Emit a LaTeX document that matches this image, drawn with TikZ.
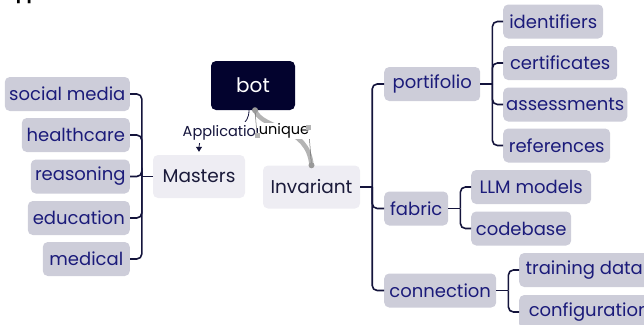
\documentclass[tikz,border=0pt]{standalone}
\usepackage{fontspec}
\setmainfont{Poppins}
\usetikzlibrary{calc,arrows.meta}
\definecolor{navy}{HTML}{14143C}
\definecolor{leafbg}{HTML}{CDCDD9}
\definecolor{leaftext}{HTML}{1B1B7A}
\definecolor{mainbg}{HTML}{EEEDF3}
\definecolor{maintext}{HTML}{1A1A3A}
\definecolor{botbg}{HTML}{03032E}
\definecolor{selgrey}{HTML}{B4B4B4}
\begin{document}
\begin{tikzpicture}[x=1pt,y=-1pt,
  leaf/.style={fill=leafbg, text=leaftext, rounded corners=5pt, minimum height=34pt,
    inner xsep=3pt, inner ysep=0pt, font=\fontsize{18}{21}\selectfont},
  topic/.style={fill=mainbg, text=maintext, rounded corners=5pt, minimum height=43pt,
    inner xsep=6pt, font=\fontsize{18.5}{22}\selectfont},
  branch/.style={draw=navy, line width=1.6pt, rounded corners=5pt},
  lbl/.style={fill=white, inner sep=1pt, font=\fontsize{14.5}{16}\selectfont},
  handle/.style={fill=selgrey, minimum size=5pt, inner sep=0pt}]
\useasboundingbox (0,0) rectangle (644,324);

% heading, cut by the top edge
\node[anchor=base west, inner sep=0pt, font=\bfseries\fontsize{16}{18}\selectfont] (hd) at (5,-0.8) {application:};

% central nodes
\node[fill=botbg, text=white, rounded corners=5pt, minimum width=84pt, minimum height=49pt,
  font=\fontsize{20}{24}\selectfont] (bot) at (253,85.5) {bot};
\node[topic, minimum width=92pt] (masters) at (199,176.5) {Masters};
\node[topic, minimum width=97pt] (inv) at (311.5,187) {Invariant};

% left branch
\node[leaf, anchor=east, minimum width=125pt] (social) at (130,94) {social media};
\node[leaf, anchor=east, minimum width=108pt] (health) at (130,135) {healthcare};
\node[leaf, anchor=east, minimum width=99pt] (reason) at (130,176.5) {reasoning};
\node[leaf, anchor=east, minimum width=102pt] (edu) at (130,218) {education};
\node[leaf, anchor=east, minimum width=87pt] (med) at (130,259) {medical};

\draw[branch] (masters.west) -- ++(-11,0) coordinate (lj);
\foreach \n in {social,health,reason,edu,med}
  \draw[branch] (lj) |- (\n.east);

% right branch
\node[leaf, anchor=west, minimum width=96pt] (port) at (384,84) {portifolio};
\node[leaf, anchor=west, minimum width=64pt] (fab) at (384,208.5) {fabric};
\node[leaf, anchor=west, minimum width=112pt] (conn) at (384,290.5) {connection};

\node[leaf, anchor=west, minimum width=100pt] (ident) at (503,21.5) {identifiers};
\node[leaf, anchor=west, minimum width=114pt] (cert) at (503,63) {certificates};
\node[leaf, anchor=west, minimum width=123pt] (assess) at (503,104.5) {assessments};
\node[leaf, anchor=west, minimum width=107pt] (ref) at (503,145.5) {references};

\node[leaf, anchor=west, minimum width=120pt] (llm) at (471,187) {LLM models};
\node[leaf, anchor=west, minimum width=100pt] (code) at (471,228.5) {codebase};

\node[leaf, anchor=west, minimum width=130pt] (train) at (519,270) {training data};
\node[leaf, anchor=west, minimum width=140pt] (config) at (519,312) {configuration};

\draw[branch] (inv.east) -- ++(12,0) coordinate (rj);
\foreach \n in {port,fab,conn}
  \draw[branch] (rj) |- (\n.west);

\draw[branch] (port.east) -- ++(12,0) coordinate (pj);
\foreach \n in {ident,cert,assess,ref}
  \draw[branch] (pj) |- (\n.west);

\draw[branch] (fab.east) -- ++(12,0) coordinate (fj);
\foreach \n in {llm,code}
  \draw[branch] (fj) |- (\n.west);

\draw[branch] (conn.east) -- ++(12,0) coordinate (cj);
\foreach \n in {train,config}
  \draw[branch] (cj) |- (\n.west);

% relation bot -> Masters
\draw[navy, line width=0.8pt, shorten >=3pt, -{Triangle[length=5pt,width=6pt]}]
  ($(bot.south)+(-4,0)$) .. controls +(0,30) and +(0,-30) .. (masters.north)
  node[lbl, pos=0.5, inner ysep=3pt, xshift=0pt] {Application};

% selected relation bot -> Invariant
\coordinate (us) at ($(bot.south)+(2,0)$);
\coordinate (ue) at (inv.north);
\coordinate (h1) at (257,135);
\coordinate (h2) at (308.5,127);
\draw[selgrey, line width=4.5pt] (us) .. controls (262,130) and (308,125) .. (ue);
\draw[selgrey!60!black, line width=0.5pt] (us) -- (h1) (h2) -- (ue);
\node[lbl] (uq) at (284,131) {unique};
\node[handle] (hs1) at (h1) {};
\node[handle] (hs2) at (h2) {};
\fill[selgrey!85!black] (us) circle (3pt) (ue) circle (3pt);
\end{tikzpicture}
\end{document}
